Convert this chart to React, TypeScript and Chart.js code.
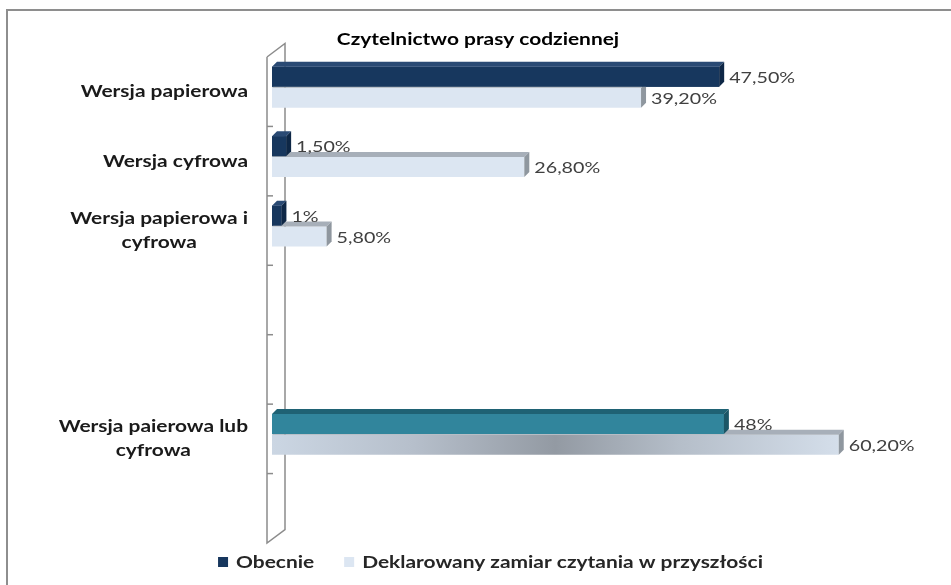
import React, { useEffect, useRef } from 'react';
import { Chart, registerables } from 'chart.js';

Chart.register(...registerables);

const titleText = 'Czytelnictwo prasy codziennej';
const categories: string[][] = [
  ['Wersja papierowa'],
  ['Wersja cyfrowa'],
  ['Wersja papierowa i', 'cyfrowa'],
  [''],
  [''],
  ['Wersja paierowa lub', 'cyfrowa'],
  [''],
];
const seriesNames = ['Obecnie', 'Deklarowany zamiar czytania w przyszłości'];
const currentValues = [47.5, 1.5, 1, null, null, 48, null];
const futureValues = [39.2, 26.8, 5.8, null, null, 60.2, null];
const currentLabels = ['47,50%', '1,50%', '1%', '', '', '48%', ''];
const futureLabels = ['39,20%', '26,80%', '5,80%', '', '', '60,20%', ''];
const valueMin = 0;
const valueMax = 70;

const FONT = 'Lato';
const SX = 1.23;
const NAVY = '#17375E';
const NAVY_TOP = '#2A4A74';
const NAVY_SIDE = '#0E2746';
const TEAL = '#31859C';
const TEAL_TOP = '#1F6274';
const TEAL_SIDE = '#1B5666';
const LIGHT = '#DCE6F2';
const LIGHT_TOP = '#A7AFB9';
const LIGHT_SIDE = '#8F979F';
const HIGHLIGHT_INDEX = 5;
const D = 5;
const SHIFT = 4.5;

function drawFaces(ctx: CanvasRenderingContext2D, el: any, top: string, side: string) {
  const p = el.getProps(['x', 'y', 'base', 'height'], true);
  const t = p.y - p.height / 2;
  const b = p.y + p.height / 2;
  ctx.fillStyle = top;
  ctx.beginPath();
  ctx.moveTo(p.base, t);
  ctx.lineTo(p.base + D, t - D);
  ctx.lineTo(p.x + D, t - D);
  ctx.lineTo(p.x, t);
  ctx.closePath();
  ctx.fill();
  ctx.fillStyle = side;
  ctx.beginPath();
  ctx.moveTo(p.x, t);
  ctx.lineTo(p.x + D, t - D);
  ctx.lineTo(p.x + D, b - D);
  ctx.lineTo(p.x, b);
  ctx.closePath();
  ctx.fill();
}

function textW(ctx: CanvasRenderingContext2D, s: string) {
  return ctx.measureText(s).width * SX;
}

function drawText(ctx: CanvasRenderingContext2D, s: string, x: number, y: number, align: CanvasTextAlign) {
  ctx.save();
  ctx.translate(x, y);
  ctx.scale(SX, 1);
  ctx.textAlign = align;
  ctx.textBaseline = 'middle';
  ctx.fillText(s, 0, 0);
  ctx.restore();
}

const wallPlugin = {
  id: 'wall3d',
  beforeDatasetsDraw(chart: any) {
    const { ctx, chartArea } = chart;
    const n = categories.length;
    const slot = (chartArea.bottom - chartArea.top) / n;
    const x0 = chartArea.left - 5;
    const top = chartArea.top + SHIFT;
    const bottom = chartArea.bottom + SHIFT;
    const dx = 18;
    const dy = 13.5;
    ctx.save();
    ctx.strokeStyle = '#8C8C8C';
    ctx.lineWidth = 1.5;
    ctx.beginPath();
    ctx.moveTo(x0, top);
    ctx.lineTo(x0, bottom);
    ctx.lineTo(x0 + dx, bottom - dy);
    ctx.lineTo(x0 + dx, top - dy);
    ctx.lineTo(x0, top);
    ctx.stroke();
    for (let i = 1; i < n; i++) {
      const yy = top + i * slot;
      ctx.beginPath();
      ctx.moveTo(x0, yy);
      ctx.lineTo(x0 + 6, yy);
      ctx.stroke();
    }
    ctx.restore();
  },
  afterDatasetsDraw(chart: any) {
    const { ctx, chartArea } = chart;
    const m0 = chart.getDatasetMeta(0);
    const m1 = chart.getDatasetMeta(1);
    ctx.save();
    m1.data.forEach((el: any, i: number) => {
      if (futureValues[i] == null) return;
      drawFaces(ctx, el, LIGHT_TOP, LIGHT_SIDE);
    });
    m0.data.forEach((el: any, i: number) => {
      if (currentValues[i] == null) return;
      el.draw(ctx, chartArea);
      const hi = i === HIGHLIGHT_INDEX;
      drawFaces(ctx, el, hi ? TEAL_TOP : NAVY_TOP, hi ? TEAL_SIDE : NAVY_SIDE);
    });

    // title
    ctx.font = `bold 17px ${FONT}`;
    ctx.fillStyle = '#000000';
    drawText(ctx, titleText, 478, 40, 'center');

    // value labels
    ctx.font = `16px ${FONT}`;
    ctx.fillStyle = '#404040';
    [
      [m0, currentValues, currentLabels],
      [m1, futureValues, futureLabels],
    ].forEach(([meta, vals, labs]: any) => {
      meta.data.forEach((el: any, i: number) => {
        if (vals[i] == null) return;
        const p = el.getProps(['x', 'y'], true);
        drawText(ctx, labs[i], p.x + D + 5, p.y + 1, 'left');
      });
    });

    // category labels
    const slot = (chartArea.bottom - chartArea.top) / categories.length;
    ctx.font = `bold 17px ${FONT}`;
    ctx.fillStyle = '#1A1A1A';
    const right = 248;
    const lh = 24;
    categories.forEach((lines, i) => {
      if (!lines.join('')) return;
      const cy = chartArea.top + (i + 0.5) * slot + SHIFT;
      const w = Math.max(...lines.map((l) => textW(ctx, l)));
      const cx = right - w / 2;
      lines.forEach((l, j) => {
        drawText(ctx, l, cx, cy + (j - (lines.length - 1) / 2) * lh, 'center');
      });
    });

    // legend
    ctx.font = `bold 17px ${FONT}`;
    const colors = [NAVY, LIGHT];
    const widths = seriesNames.map((s) => textW(ctx, s));
    const box = 10;
    const gap = 8;
    const spacing = 30;
    const total = widths.reduce((a, w) => a + box + gap + w, 0) + spacing * (seriesNames.length - 1);
    let x = 490.5 - total / 2;
    const ly = 562;
    seriesNames.forEach((s, i) => {
      ctx.fillStyle = colors[i];
      ctx.fillRect(x, ly - box / 2, box, box);
      x += box + gap;
      ctx.fillStyle = '#262626';
      drawText(ctx, s, x, ly + 1, 'left');
      x += widths[i] + spacing;
    });
    ctx.restore();
  },
};

function lightFill(c: any) {
  const chart = c.chart;
  if (c.dataIndex !== HIGHLIGHT_INDEX || !chart.chartArea) return LIGHT;
  const xs = chart.scales.x;
  const x0 = xs.getPixelForValue(0);
  const x1 = xs.getPixelForValue(futureValues[HIGHLIGHT_INDEX] as number);
  const g = chart.ctx.createLinearGradient(x0, 0, x1, 0);
  g.addColorStop(0, '#CBD6E3');
  g.addColorStop(0.25, '#B6BFCB');
  g.addColorStop(0.5, '#939AA3');
  g.addColorStop(0.72, '#B5BEC9');
  g.addColorStop(1, '#D4DEEA');
  return g;
}

export default function App() {
  const ref = useRef<HTMLCanvasElement>(null);
  useEffect(() => {
    if (!ref.current) return;
    const chart = new Chart(ref.current, {
      type: 'bar',
      data: {
        labels: categories,
        datasets: [
          {
            label: seriesNames[0],
            data: currentValues,
            backgroundColor: currentValues.map((_, i) => (i === HIGHLIGHT_INDEX ? TEAL : NAVY)),
            categoryPercentage: 0.6,
            barPercentage: 0.96,
          },
          {
            label: seriesNames[1],
            data: futureValues,
            backgroundColor: lightFill,
            categoryPercentage: 0.6,
            barPercentage: 0.96,
          },
        ],
      },
      options: {
        indexAxis: 'y',
        animation: false,
        responsive: false,
        maintainAspectRatio: false,
        layout: { padding: { left: 25, right: 20, top: 52.5, bottom: 46.5 } },
        scales: {
          x: { display: false, min: valueMin, max: valueMax },
          y: {
            display: true,
            ticks: { display: false },
            grid: { display: false },
            border: { display: false },
            afterFit: (s: any) => {
              s.width = 247;
            },
          },
        },
        plugins: {
          legend: { display: false },
          tooltip: { enabled: false },
          title: { display: false, text: titleText },
        },
      },
      plugins: [wallPlugin],
    });
    return () => chart.destroy();
  }, []);
  return (
    <div style={{ position: 'fixed', left: 0, top: 0, width: 951, height: 585, background: '#fff', overflow: 'hidden' }}>
      <div
        style={{
          position: 'absolute',
          left: 6,
          top: 9,
          width: 1000,
          height: 700,
          borderTop: '2px solid #8E8E8E',
          borderLeft: '2px solid #8E8E8E',
        }}
      />
      <canvas ref={ref} width={951} height={585} style={{ position: 'absolute', left: 0, top: 0 }} />
    </div>
  );
}
